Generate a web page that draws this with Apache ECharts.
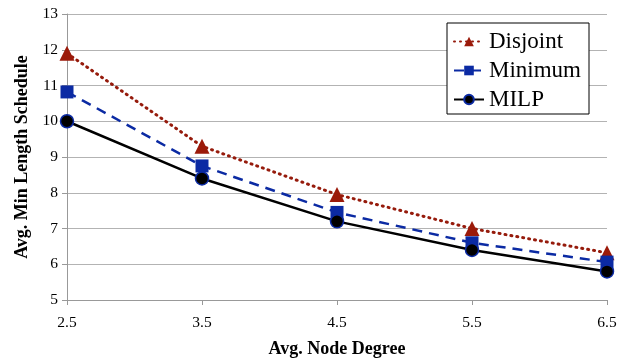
<!DOCTYPE html>
<html>
<head>
<meta charset="utf-8">
<script src="https://cdn.jsdelivr.net/npm/echarts@6/dist/echarts.min.js"></script>
<style>
  html, body { margin: 0; padding: 0; background: #fff; }
  #chart { width: 630px; height: 364px; }
</style>
</head>
<body>
<div id="chart"></div>
<script>
// node degree on the x axis
const degrees = ["2.5", "3.5", "4.5", "5.5", "6.5"];
const disjoint = [11.9, 9.3, 7.95, 7.0, 6.32];
const minimum = [10.82, 8.75, 7.45, 6.6, 6.06];
const milp = [10.0, 8.4, 7.2, 6.4, 5.8];

const serif = "Liberation Serif";

const chart = echarts.init(document.getElementById("chart"));
chart.setOption({
  animation: false,
  textStyle: { fontFamily: serif },
  grid: { left: 67, right: 23, top: 14, bottom: 64 },
  legend: {
    orient: "vertical",
    left: 447,
    top: 23,
    width: 140,
    padding: [7, 8, 3, 6],
    itemGap: 6,
    itemWidth: 30,
    itemHeight: 12,
    borderColor: "#000",
    borderWidth: 1,
    backgroundColor: "#fff",
    textStyle: { fontFamily: serif, fontSize: 23, color: "#000" },
    data: ["Disjoint", "Minimum", "MILP"]
  },
  xAxis: {
    type: "category",
    data: degrees,
    boundaryGap: false,
    name: "Avg. Node Degree",
    nameLocation: "middle",
    nameGap: 40,
    nameTextStyle: { fontFamily: serif, fontWeight: "bold", fontSize: 18, color: "#000" },
    axisLine: { lineStyle: { color: "#999", width: 1 } },
    axisTick: { alignWithLabel: true, length: 5, lineStyle: { color: "#999" } },
    axisLabel: { fontFamily: serif, fontSize: 15.5, color: "#000", margin: 15 },
    splitLine: { show: false }
  },
  yAxis: {
    type: "value",
    min: 5,
    max: 13,
    interval: 1,
    name: "Avg. Min Length Schedule",
    nameLocation: "middle",
    nameRotate: 90,
    nameGap: 36,
    nameTextStyle: { fontFamily: serif, fontWeight: "bold", fontSize: 18, color: "#000" },
    axisLine: { show: true, lineStyle: { color: "#999", width: 1 } },
    axisTick: { show: true, length: 5, lineStyle: { color: "#999" } },
    axisLabel: { fontFamily: serif, fontSize: 15.5, color: "#000", margin: 9 },
    splitLine: { lineStyle: { color: "#b3b3b3", width: 1 } }
  },
  series: [
    {
      name: "Disjoint",
      type: "line",
      data: disjoint,
      symbol: "triangle",
      symbolSize: 15,
      z: 3,
      lineStyle: { color: "#961b0c", width: 3, type: [1, 5], cap: "round" },
      itemStyle: { color: "#9b1a0a", borderWidth: 0 }
    },
    {
      name: "Minimum",
      type: "line",
      data: minimum,
      symbol: "rect",
      symbolSize: 13,
      z: 4,
      lineStyle: { color: "#0b2aa3", width: 2.5, type: [10, 7] },
      itemStyle: { color: "#0b2aa3", borderWidth: 0 }
    },
    {
      name: "MILP",
      type: "line",
      data: milp,
      symbol: "circle",
      symbolSize: 13,
      z: 5,
      lineStyle: { color: "#000", width: 2.5 },
      itemStyle: { color: "#000", borderColor: "#0b2aa3", borderWidth: 1.5 }
    }
  ]
});
</script>
</body>
</html>
